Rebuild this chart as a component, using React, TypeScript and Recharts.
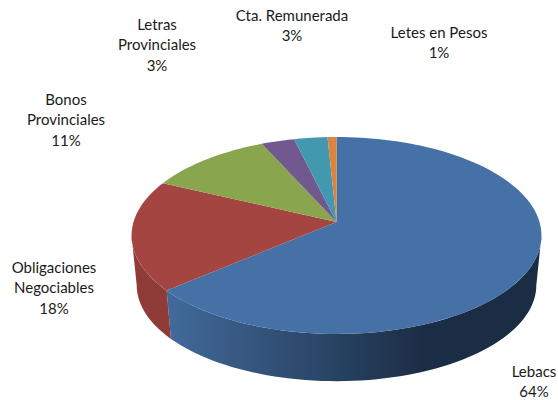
import { PieChart, Pie, Cell } from 'recharts';

const names = ['Lebacs', 'Obligaciones Negociables', 'Bonos Provinciales', 'Letras Provinciales', 'Cta. Remunerada', 'Letes en Pesos'];
// labels are rounded, slice sizes read a little finer off the picture
const values = [63.8, 18.2, 11.2, 3, 3, 0.8];
const colors = ['#4571a7', '#a54542', '#89a54e', '#71588f', '#4198af', '#db843d'];
const wallStops = [
  ['#41699a', '#1b2d44'],
  ['#8f3c38', '#93403c'],
  ['#89a54e', '#89a54e'],
  ['#71588f', '#71588f'],
  ['#4198af', '#4198af'],
  ['#db843d', '#db843d'],
];
const labelLines = [
  ['Lebacs', '64%'],
  ['Obligaciones', 'Negociables', '18%'],
  ['Bonos', 'Provinciales', '11%'],
  ['Letras', 'Provinciales', '3%'],
  ['Cta. Remunerada', '3%'],
  ['Letes en Pesos', '1%'],
];
const labelAnchors = [
  [534, 377],
  [54, 273],
  [66, 105],
  [157, 30],
  [292, 21],
  [439, 38],
];

const chartData = names.map((name, i) => ({ name, value: values[i] }));

// perspective used to tilt the flat pie
const PERSPECTIVE = 0.137;
const TILT = 0.476;
const DEPTH_SCALE = 0.975;
const DEPTH_DROP = 50;
// where the rim turns away from the viewer, either side
const RIM_RIGHT = -8;
const RIM_LEFT = -172;

function project(cx: number, cy: number, r: number, deg: number, scale = 1, drop = 0) {
  const a = (deg * Math.PI) / 180;
  const dx = Math.cos(a);
  const dy = -Math.sin(a);
  const w = 1 - PERSPECTIVE * dy;
  return [cx + (r * scale * dx) / w, cy + drop + (r * scale * TILT * dy) / w];
}

function arcPoints(cx: number, cy: number, r: number, from: number, to: number, scale = 1, drop = 0) {
  const n = Math.max(2, Math.ceil(Math.abs(to - from) / 2));
  const pts: number[][] = [];
  for (let i = 0; i <= n; i++) {
    pts.push(project(cx, cy, r, from + ((to - from) * i) / n, scale, drop));
  }
  return pts;
}

const toPath = (pts: number[][]) => pts.map((p) => p[0].toFixed(2) + ',' + p[1].toFixed(2)).join(' ');

function TopSlice(props: any) {
  const { cx, cy, outerRadius, startAngle, endAngle, fill } = props;
  const pts = [[cx, cy], ...arcPoints(cx, cy, outerRadius, startAngle, endAngle)];
  return <polygon points={toPath(pts)} fill={fill} />;
}

function WallSlice(props: any) {
  const { cx, cy, outerRadius, startAngle, endAngle, index } = props;
  const hi = Math.min(startAngle, RIM_RIGHT);
  const lo = Math.max(endAngle, RIM_LEFT);
  if (hi <= lo) return <g />;
  const top = arcPoints(cx, cy, outerRadius, hi, lo);
  const bottom = arcPoints(cx, cy, outerRadius, lo, hi, DEPTH_SCALE, DEPTH_DROP);
  const id = 'wall-' + index;
  return (
    <g>
      <defs>
        <linearGradient id={id} gradientUnits="userSpaceOnUse" x1={170} x2={425} y1={0} y2={0}>
          <stop offset="0" stopColor={wallStops[index][0]} />
          <stop offset="1" stopColor={wallStops[index][1]} />
        </linearGradient>
      </defs>
      <polygon points={toPath([...top, ...bottom])} fill={`url(#${id})`} />
    </g>
  );
}

function SliceLabel(props: any) {
  const { index } = props;
  const [x, y] = labelAnchors[index];
  return (
    <text x={x} y={y} textAnchor="middle" fontFamily="Lato" fontSize={15} fill="#1a1a1a">
      {labelLines[index].map((line, i) => (
        <tspan key={line} x={x} dy={i === 0 ? 0 : 20.3}>
          {line}
        </tspan>
      ))}
    </text>
  );
}

export default function App() {
  return (
    <div style={{ position: 'absolute', left: 0, top: 0, width: 558, height: 400, background: '#fff' }}>
      <PieChart width={558} height={400} margin={{ top: 0, right: 0, bottom: 0, left: 0 }}>
        <Pie
          data={chartData}
          dataKey="value"
          cx={336.5}
          cy={222}
          outerRadius={203}
          startAngle={90}
          endAngle={-270}
          stroke="none"
          isAnimationActive={false}
          shape={WallSlice}
        >
          {chartData.map((d, i) => (
            <Cell key={d.name} fill={colors[i]} />
          ))}
        </Pie>
        <Pie
          data={chartData}
          dataKey="value"
          cx={336.5}
          cy={222}
          outerRadius={203}
          startAngle={90}
          endAngle={-270}
          stroke="none"
          isAnimationActive={false}
          shape={TopSlice}
          label={SliceLabel}
          labelLine={false}
        >
          {chartData.map((d, i) => (
            <Cell key={d.name} fill={colors[i]} />
          ))}
        </Pie>
      </PieChart>
    </div>
  );
}
